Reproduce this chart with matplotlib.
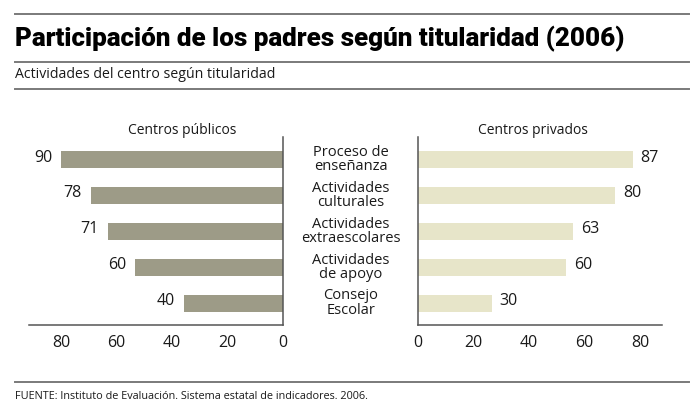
import matplotlib
matplotlib.use("Agg")
import matplotlib.pyplot as plt
from matplotlib.lines import Line2D
import numpy as np

# ---- data ----
categories = ["Proceso de\nenseñanza", "Actividades\nculturales", "Actividades\nextraescolares",
              "Actividades\nde apoyo", "Consejo\nEscolar"]
publicos = [90, 78, 71, 60, 40]
privados = [87, 80, 63, 60, 30]
tick_labels = [0, 20, 40, 60, 80]

title = "Participación de los padres según titularidad (2006)"
subtitle = "Actividades del centro según titularidad"
source = "FUENTE: Instituto de Evaluación. Sistema estatal de indicadores. 2006."
left_header = "Centros públicos"
right_header = "Centros privados"

# ---- style ----
W, H = 700, 415
FONT = ["Open Sans", "DejaVu Sans"]
plt.rcParams["font.family"] = FONT
col_pub = "#9d9b87"
col_priv = "#e7e5c9"
rule_col = "#7a7a7a"
spine_col = "#555555"
txt_col = "#1a1a1a"

fig = plt.figure(figsize=(W / 100, H / 100), dpi=100)

def fx(px):
    return px / W

def fy(py):
    return 1 - py / H

# scale of the drawing: the axis label "80" sits where value 90 is drawn
tick_pos = [t * 90 / 80 for t in tick_labels]

y = np.arange(len(categories))
ylim = (len(categories) - 1 + 0.61, -0.63)
bar_h = 0.48

# left axes
axL = fig.add_axes([fx(29), fy(325), fx(283 - 29), (325 - 137) / H])
axL.barh(y, publicos, height=bar_h, color=col_pub)
axL.set_xlim(103, 0)
axL.set_ylim(*ylim)
for yi, v in zip(y, publicos):
    axL.annotate(str(v), (v, yi), xytext=(-6.5, 1.5), textcoords="offset points",
                 ha="right", va="center", fontsize=11.5, color=txt_col)

# right axes
axR = fig.add_axes([fx(418), fy(325), fx(662 - 418), (325 - 137) / H])
axR.barh(y, privados, height=bar_h, color=col_priv)
axR.set_xlim(0, 98.9)
axR.set_ylim(*ylim)
for yi, v in zip(y, privados):
    axR.annotate(str(v), (v, yi), xytext=(5.5, 1.5), textcoords="offset points",
                 ha="left", va="center", fontsize=11.5, color=txt_col)

for ax, keep in ((axL, "right"), (axR, "left")):
    for s in ("top", "left", "right", "bottom"):
        ax.spines[s].set_visible(s in ("bottom", keep))
        ax.spines[s].set_color(spine_col)
        ax.spines[s].set_linewidth(1.1)
    ax.set_yticks([])
    ax.set_xticks(tick_pos)
    ax.set_xticklabels([str(t) for t in tick_labels])
    ax.tick_params(axis="x", length=0, pad=7, labelsize=11.5, labelcolor=txt_col)
    ax.patch.set_alpha(0)

# category labels in the middle
for yi, c in zip(y, categories):
    disp = axL.transData.transform((0, yi))
    fyc = fig.transFigure.inverted().transform(disp)[1]
    fig.text(fx(351), fyc, c, ha="center", va="center", fontsize=10.5,
             linespacing=0.95, color=txt_col)

fig.text(fx(182), fy(130), left_header, ha="center", va="center", fontsize=10, color=txt_col)
fig.text(fx(533), fy(130), right_header, ha="center", va="center", fontsize=10, color=txt_col)

# title, fitted to width
t = fig.text(fx(15), fy(46), title, ha="left", va="baseline", fontsize=17,
             fontweight="black", family=["Roboto", "DejaVu Sans"], color="#000000")
fig.canvas.draw()
wpx = t.get_window_extent().width
t.set_fontsize(17 * (610 / wpx))

fig.text(fx(15), fy(74), subtitle, ha="left", va="center", fontsize=10.2, color=txt_col)
fig.text(fx(15), fy(396), source, ha="left", va="center", fontsize=7.8, color=txt_col)

for py in (14, 62, 89, 382):
    fig.add_artist(Line2D([fx(15), fx(689)], [fy(py), fy(py)], color=rule_col, lw=1.4,
                          transform=fig.transFigure))

fig.savefig("out.png", dpi=100, facecolor="white")
